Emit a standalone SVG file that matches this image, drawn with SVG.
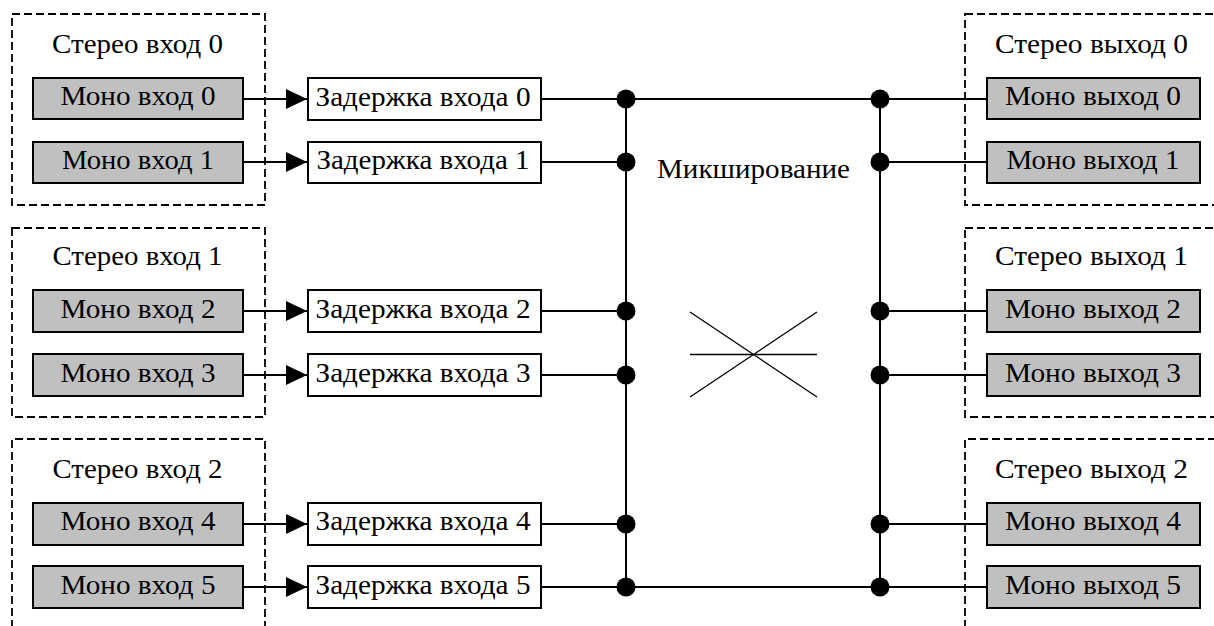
<svg xmlns="http://www.w3.org/2000/svg" width="1214" height="626" viewBox="0 0 1214 626">
<style>
text{font-family:"Liberation Serif","Times New Roman",serif;font-size:28px;fill:#000;text-anchor:middle}
.grp{fill:none;stroke:#000;stroke-width:1.8;stroke-dasharray:8 4}
.mono{fill:#c0c0c0;stroke:#000;stroke-width:2}
.delay{fill:#fff;stroke:#000;stroke-width:2}
.wire{stroke:#000;stroke-width:2;fill:none}
.thin{stroke:#000;stroke-width:1.3;fill:none}
.dot{fill:#000}
</style>
<defs>
<marker id="arr" markerWidth="22" markerHeight="22" refX="21" refY="10" orient="auto" markerUnits="userSpaceOnUse">
<path d="M0,0 L21,10 L0,20 Z" fill="#000"/>
</marker>
</defs>
<rect width="1214" height="626" fill="#fff"/>

<!-- input groups -->
<g id="stereo_in_0">
<rect class="grp" x="12" y="14" width="253" height="191"/>
<text x="137.5" y="53" textLength="171" lengthAdjust="spacingAndGlyphs">Стерео вход 0</text>
</g>
<g id="stereo_in_1">
<rect class="grp" x="12" y="228" width="253" height="189"/>
<text x="137.5" y="265" textLength="170" lengthAdjust="spacingAndGlyphs">Стерео вход 1</text>
</g>
<g id="stereo_in_2">
<path class="grp" d="M12,640 V439 H265 V640"/>
<text x="137.5" y="478" textLength="170" lengthAdjust="spacingAndGlyphs">Стерео вход 2</text>
</g>

<!-- output groups -->
<g id="stereo_out_0">
<rect class="grp" x="965" y="14" width="260" height="191"/>
<text x="1091.5" y="53" textLength="193" lengthAdjust="spacingAndGlyphs">Стерео выход 0</text>
</g>
<g id="stereo_out_1">
<rect class="grp" x="965" y="228" width="260" height="189"/>
<text x="1091.5" y="265" textLength="193" lengthAdjust="spacingAndGlyphs">Стерео выход 1</text>
</g>
<g id="stereo_out_2">
<path class="grp" d="M965,640 V439 H1225"/>
<text x="1091.5" y="478" textLength="193" lengthAdjust="spacingAndGlyphs">Стерео выход 2</text>
</g>

<!-- mono inputs -->
<g id="mono_in_0"><rect class="mono" x="33" y="78" width="210" height="41"/><text x="138" y="105" textLength="155" lengthAdjust="spacingAndGlyphs">Моно вход 0</text></g>
<g id="mono_in_1"><rect class="mono" x="33" y="142" width="210" height="41"/><text x="138" y="169" textLength="152" lengthAdjust="spacingAndGlyphs">Моно вход 1</text></g>
<g id="mono_in_2"><rect class="mono" x="33" y="290" width="210" height="42"/><text x="138" y="318" textLength="155" lengthAdjust="spacingAndGlyphs">Моно вход 2</text></g>
<g id="mono_in_3"><rect class="mono" x="33" y="354" width="210" height="42"/><text x="138" y="382" textLength="155" lengthAdjust="spacingAndGlyphs">Моно вход 3</text></g>
<g id="mono_in_4"><rect class="mono" x="33" y="503" width="210" height="42"/><text x="138" y="530" textLength="155" lengthAdjust="spacingAndGlyphs">Моно вход 4</text></g>
<g id="mono_in_5"><rect class="mono" x="33" y="566" width="210" height="42"/><text x="138" y="594" textLength="155" lengthAdjust="spacingAndGlyphs">Моно вход 5</text></g>

<!-- delays -->
<g id="delay_0"><rect class="delay" x="308" y="78" width="233" height="42"/><text x="423" y="106" textLength="215" lengthAdjust="spacingAndGlyphs">Задержка входа 0</text></g>
<g id="delay_1"><rect class="delay" x="308" y="142" width="233" height="41"/><text x="423" y="169" textLength="213" lengthAdjust="spacingAndGlyphs">Задержка входа 1</text></g>
<g id="delay_2"><rect class="delay" x="308" y="290" width="233" height="42"/><text x="423" y="318" textLength="215" lengthAdjust="spacingAndGlyphs">Задержка входа 2</text></g>
<g id="delay_3"><rect class="delay" x="308" y="354" width="233" height="42"/><text x="423" y="382" textLength="215" lengthAdjust="spacingAndGlyphs">Задержка входа 3</text></g>
<g id="delay_4"><rect class="delay" x="308" y="503" width="233" height="42"/><text x="423" y="530" textLength="215" lengthAdjust="spacingAndGlyphs">Задержка входа 4</text></g>
<g id="delay_5"><rect class="delay" x="308" y="566" width="233" height="42"/><text x="423" y="594" textLength="215" lengthAdjust="spacingAndGlyphs">Задержка входа 5</text></g>

<!-- mono outputs -->
<g id="mono_out_0"><rect class="mono" x="987" y="78" width="213" height="41"/><text x="1093" y="105" textLength="176" lengthAdjust="spacingAndGlyphs">Моно выход 0</text></g>
<g id="mono_out_1"><rect class="mono" x="987" y="142" width="213" height="41"/><text x="1093" y="169" textLength="173" lengthAdjust="spacingAndGlyphs">Моно выход 1</text></g>
<g id="mono_out_2"><rect class="mono" x="987" y="290" width="213" height="42"/><text x="1093" y="318" textLength="176" lengthAdjust="spacingAndGlyphs">Моно выход 2</text></g>
<g id="mono_out_3"><rect class="mono" x="987" y="354" width="213" height="42"/><text x="1093" y="382" textLength="176" lengthAdjust="spacingAndGlyphs">Моно выход 3</text></g>
<g id="mono_out_4"><rect class="mono" x="987" y="503" width="213" height="42"/><text x="1093" y="530" textLength="176" lengthAdjust="spacingAndGlyphs">Моно выход 4</text></g>
<g id="mono_out_5"><rect class="mono" x="987" y="566" width="213" height="42"/><text x="1093" y="594" textLength="176" lengthAdjust="spacingAndGlyphs">Моно выход 5</text></g>

<!-- mixing -->
<g id="mixing">
<text x="753.5" y="178" textLength="193" lengthAdjust="spacingAndGlyphs">Микширование</text>
<line class="thin" x1="690" y1="312" x2="817" y2="397"/>
<line class="thin" x1="690" y1="397" x2="817" y2="312"/>
<line class="thin" x1="690" y1="354.5" x2="817" y2="354.5"/>
</g>

<!-- connectors -->
<g id="connectors">
<line class="wire" x1="243" y1="99" x2="307" y2="99" marker-end="url(#arr)"/>
<line class="wire" x1="243" y1="162" x2="307" y2="162" marker-end="url(#arr)"/>
<line class="wire" x1="243" y1="311" x2="307" y2="311" marker-end="url(#arr)"/>
<line class="wire" x1="243" y1="375" x2="307" y2="375" marker-end="url(#arr)"/>
<line class="wire" x1="243" y1="524" x2="307" y2="524" marker-end="url(#arr)"/>
<line class="wire" x1="243" y1="587" x2="307" y2="587" marker-end="url(#arr)"/>

<line class="wire" x1="541" y1="99" x2="987" y2="99"/>
<line class="wire" x1="541" y1="162" x2="626" y2="162"/>
<line class="wire" x1="541" y1="311" x2="626" y2="311"/>
<line class="wire" x1="541" y1="375" x2="626" y2="375"/>
<line class="wire" x1="541" y1="524" x2="626" y2="524"/>
<line class="wire" x1="541" y1="587" x2="987" y2="587"/>

<line class="wire" x1="880" y1="162" x2="987" y2="162"/>
<line class="wire" x1="880" y1="311" x2="987" y2="311"/>
<line class="wire" x1="880" y1="375" x2="987" y2="375"/>
<line class="wire" x1="880" y1="524" x2="987" y2="524"/>

<line class="wire" x1="626" y1="99" x2="626" y2="587"/>
<line class="wire" x1="880" y1="99" x2="880" y2="587"/>

<circle class="dot" cx="626" cy="99" r="9.5"/>
<circle class="dot" cx="626" cy="162" r="9.5"/>
<circle class="dot" cx="626" cy="311" r="9.5"/>
<circle class="dot" cx="626" cy="375" r="9.5"/>
<circle class="dot" cx="626" cy="524" r="9.5"/>
<circle class="dot" cx="626" cy="587" r="9.5"/>
<circle class="dot" cx="880" cy="99" r="9.5"/>
<circle class="dot" cx="880" cy="162" r="9.5"/>
<circle class="dot" cx="880" cy="311" r="9.5"/>
<circle class="dot" cx="880" cy="375" r="9.5"/>
<circle class="dot" cx="880" cy="524" r="9.5"/>
<circle class="dot" cx="880" cy="587" r="9.5"/>
</g>
</svg>
